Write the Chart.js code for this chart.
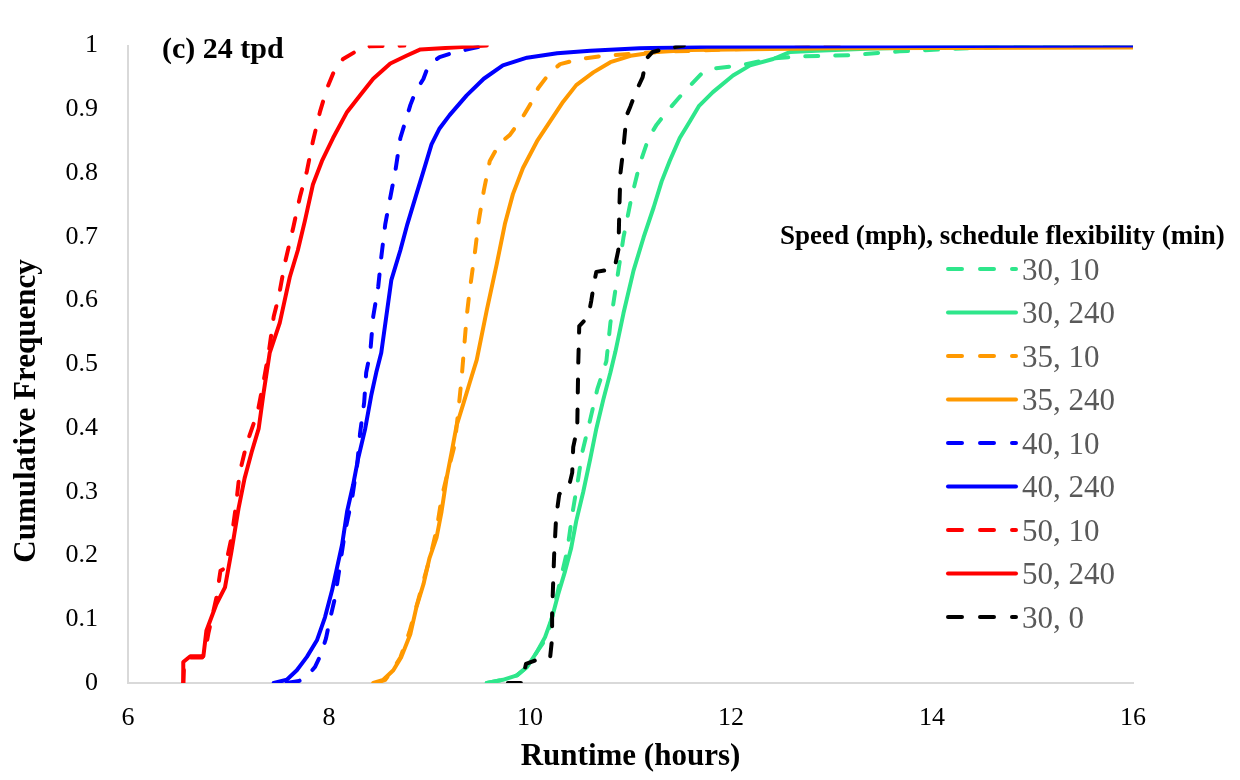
<!DOCTYPE html>
<html>
<head>
<meta charset="utf-8">
<script src="https://cdn.jsdelivr.net/npm/chart.js@4.4.1/dist/chart.umd.min.js"></script>
<style>
  body { margin: 0; background: #ffffff; }
  #wrap { width: 1240px; height: 780px; }
</style>
</head>
<body>
<div id="wrap"><canvas id="cdf-chart" width="1240" height="780"></canvas></div>
<script>
// Axis ticks
const xTicks = [6, 8, 10, 12, 14, 16];
const yTicks = [0, 0.1, 0.2, 0.3, 0.4, 0.5, 0.6, 0.7, 0.8, 0.9, 1];
const yTickLabels = ["0", "0.1", "0.2", "0.3", "0.4", "0.5", "0.6", "0.7", "0.8", "0.9", "1"];

// Series labels: speed (mph), schedule flexibility (min)
const seriesLabels = ["30, 10", "30, 240", "35, 10", "35, 240", "40, 10", "40, 240", "50, 10", "50, 240", "30, 0"];

// [runtime hours, cumulative frequency]
const run30_10 = [[9.57, 0], [9.73, 0.005], [9.87, 0.012], [9.97, 0.025], [10.07, 0.049], [10.17, 0.072], [10.23, 0.11], [10.3, 0.16], [10.37, 0.207], [10.42, 0.264], [10.48, 0.321], [10.52, 0.362], [10.6, 0.414], [10.67, 0.461], [10.76, 0.505], [10.8, 0.565], [10.86, 0.627], [10.93, 0.699], [11.01, 0.762], [11.09, 0.813], [11.18, 0.855], [11.26, 0.876], [11.36, 0.896], [11.53, 0.927], [11.72, 0.958], [11.82, 0.964], [12.09, 0.969], [12.42, 0.98], [12.69, 0.983], [13.18, 0.985], [13.68, 0.991], [14.5, 0.997], [15.2, 0.999], [16, 1]];
const run30_240 = [[9.57, 0], [9.73, 0.005], [9.87, 0.012], [9.97, 0.025], [10.07, 0.049], [10.15, 0.072], [10.22, 0.103], [10.28, 0.139], [10.35, 0.176], [10.41, 0.212], [10.46, 0.254], [10.53, 0.3], [10.6, 0.352], [10.66, 0.399], [10.73, 0.445], [10.8, 0.487], [10.85, 0.52], [10.93, 0.58], [11.03, 0.647], [11.13, 0.699], [11.23, 0.746], [11.31, 0.787], [11.39, 0.819], [11.49, 0.855], [11.59, 0.881], [11.68, 0.905], [11.82, 0.927], [12.02, 0.953], [12.19, 0.969], [12.42, 0.979], [12.59, 0.99], [12.85, 0.992], [13.35, 0.995], [13.88, 0.997], [16, 1]];
const run35_10 = [[8.47, 0], [8.56, 0.005], [8.63, 0.02], [8.71, 0.04], [8.8, 0.08], [8.87, 0.12], [8.94, 0.16], [9.01, 0.2], [9.07, 0.24], [9.12, 0.29], [9.18, 0.33], [9.25, 0.373], [9.29, 0.432], [9.32, 0.479], [9.34, 0.518], [9.37, 0.575], [9.4, 0.616], [9.45, 0.673], [9.49, 0.725], [9.54, 0.772], [9.6, 0.819], [9.7, 0.847], [9.8, 0.86], [9.92, 0.886], [10, 0.907], [10.08, 0.933], [10.2, 0.958], [10.3, 0.971], [10.5, 0.979], [10.73, 0.984], [11, 0.987], [11.26, 0.99], [12, 0.994], [13.2, 1]];
const run35_240 = [[8.44, 0], [8.54, 0.005], [8.64, 0.02], [8.72, 0.041], [8.81, 0.077], [8.87, 0.119], [8.94, 0.155], [9, 0.196], [9.07, 0.228], [9.12, 0.269], [9.17, 0.321], [9.22, 0.362], [9.27, 0.404], [9.34, 0.44], [9.4, 0.471], [9.47, 0.507], [9.57, 0.585], [9.67, 0.658], [9.75, 0.72], [9.83, 0.767], [9.93, 0.808], [10.07, 0.85], [10.2, 0.881], [10.33, 0.912], [10.46, 0.938], [10.63, 0.958], [10.8, 0.974], [11, 0.984], [11.26, 0.99], [11.59, 0.993], [13, 0.996], [16, 0.997]];
const run40_10 = [[7.58, 0], [7.7, 0.003], [7.78, 0.01], [7.86, 0.025], [7.92, 0.045], [7.97, 0.07], [8.01, 0.1], [8.06, 0.134], [8.11, 0.186], [8.16, 0.238], [8.23, 0.29], [8.28, 0.342], [8.31, 0.393], [8.35, 0.44], [8.37, 0.487], [8.41, 0.518], [8.44, 0.575], [8.49, 0.622], [8.52, 0.668], [8.56, 0.72], [8.61, 0.762], [8.66, 0.803], [8.71, 0.855], [8.76, 0.881], [8.81, 0.907], [8.86, 0.927], [8.94, 0.948], [8.99, 0.969], [9.1, 0.982], [9.2, 0.987], [9.4, 0.995], [9.55, 1]];
const run40_240 = [[7.45, 0], [7.58, 0.005], [7.68, 0.02], [7.78, 0.041], [7.88, 0.067], [7.96, 0.103], [8.03, 0.145], [8.08, 0.181], [8.13, 0.217], [8.18, 0.269], [8.24, 0.311], [8.29, 0.352], [8.36, 0.399], [8.42, 0.451], [8.47, 0.487], [8.52, 0.518], [8.57, 0.575], [8.62, 0.632], [8.71, 0.679], [8.78, 0.72], [8.87, 0.767], [8.94, 0.803], [9.02, 0.845], [9.1, 0.87], [9.2, 0.891], [9.37, 0.922], [9.54, 0.948], [9.73, 0.969], [9.97, 0.981], [10.27, 0.988], [10.6, 0.992], [11.09, 0.996], [11.76, 0.998], [16, 1]];
const run50_10 = [[6.55, 0], [6.56, 0.035], [6.6, 0.04], [6.74, 0.04], [6.78, 0.06], [6.8, 0.078], [6.88, 0.134], [6.92, 0.176], [6.965, 0.18], [7.03, 0.228], [7.075, 0.279], [7.11, 0.329], [7.18, 0.375], [7.29, 0.425], [7.35, 0.474], [7.4, 0.518], [7.45, 0.575], [7.5, 0.606], [7.56, 0.658], [7.645, 0.715], [7.71, 0.762], [7.78, 0.803], [7.84, 0.85], [7.91, 0.896], [7.98, 0.933], [8.04, 0.956], [8.14, 0.979], [8.28, 0.992], [8.41, 0.999], [8.75, 1]];
const run50_240 = [[6.55, 0], [6.55, 0.033], [6.62, 0.042], [6.75, 0.042], [6.78, 0.082], [6.88, 0.124], [6.965, 0.15], [7.03, 0.207], [7.1, 0.274], [7.16, 0.321], [7.23, 0.362], [7.3, 0.399], [7.35, 0.456], [7.41, 0.518], [7.51, 0.565], [7.61, 0.637], [7.69, 0.679], [7.76, 0.725], [7.84, 0.782], [7.93, 0.819], [8.04, 0.855], [8.18, 0.896], [8.31, 0.922], [8.44, 0.948], [8.61, 0.972], [8.77, 0.984], [8.91, 0.994], [9.24, 0.997], [9.57, 1]];
const run30_0 = [[9.78, 0], [9.92, 0], [9.96, 0.03], [10.08, 0.037], [10.2, 0.04], [10.22, 0.07], [10.22, 0.11], [10.24, 0.2], [10.26, 0.26], [10.29, 0.295], [10.32, 0.305], [10.39, 0.31], [10.42, 0.33], [10.43, 0.37], [10.47, 0.4], [10.48, 0.5], [10.49, 0.56], [10.58, 0.575], [10.61, 0.6], [10.64, 0.63], [10.66, 0.645], [10.84, 0.65], [10.88, 0.68], [10.89, 0.75], [10.9, 0.8], [10.93, 0.84], [10.96, 0.89], [11, 0.905], [11.06, 0.93], [11.12, 0.95], [11.16, 0.98], [11.22, 0.99], [11.35, 0.995], [11.53, 1]];

const seriesData = [run30_10, run30_240, run35_10, run35_240, run40_10, run40_240, run50_10, run50_240, run30_0];
const seriesColors = ["#2ee68b", "#2ee68b", "#ff9900", "#ff9900", "#0000ff", "#0000ff", "#ff0000", "#ff0000", "#000000"];
const seriesDashed = [true, false, true, false, true, false, true, false, true];

const FONT = "'Liberation Serif', 'Times New Roman', serif";
const DASH = [13, 17];

const datasets = seriesData.map((pts, i) => ({
  label: seriesLabels[i],
  data: pts.map(([x, y]) => ({ x: x, y: y })),
  borderColor: seriesColors[i],
  backgroundColor: seriesColors[i],
  borderWidth: 4,
  borderDash: seriesDashed[i] ? DASH : [],
  borderCapStyle: "round",
  borderJoinStyle: "round",
  showLine: true,
  pointRadius: 0,
  tension: 0,
  order: -i, // later series on top, like the original
}));

// Texts that sit inside the chart: panel tag, y title and the legend box
const overlayText = {
  id: "overlayText",
  afterDraw(chart) {
    const ctx = chart.ctx;
    ctx.save();

    ctx.fillStyle = "#000";
    ctx.font = "bold 30px " + FONT;
    ctx.textAlign = "left";
    ctx.textBaseline = "alphabetic";
    ctx.fillText("(c) 24 tpd", 162, 58);

    ctx.save();
    ctx.translate(27, 411);
    ctx.rotate(-Math.PI / 2);
    ctx.textAlign = "center";
    ctx.textBaseline = "middle";
    ctx.font = "bold 31px " + FONT;
    ctx.fillText("Cumulative Frequency", 0, 0);
    ctx.restore();

    ctx.font = "bold 27px " + FONT;
    ctx.textBaseline = "middle";
    ctx.fillText("Speed (mph), schedule flexibility (min)", 780, 237);

    ctx.font = "31px " + FONT;
    ctx.textBaseline = "alphabetic";
    chart.data.datasets.forEach((ds, i) => {
      const y = 269 + i * 43.5;
      ctx.beginPath();
      ctx.strokeStyle = ds.borderColor;
      ctx.lineWidth = 4;
      ctx.lineCap = "round";
      ctx.setLineDash(ds.borderDash.length ? [14, 18] : []);
      ctx.moveTo(948, y);
      ctx.lineTo(1016, y);
      ctx.stroke();
      ctx.setLineDash([]);
      ctx.fillStyle = "#595959";
      ctx.fillText(ds.label, 1022, y + 10.5);
    });

    ctx.restore();
  },
};

new Chart(document.getElementById("cdf-chart"), {
  type: "scatter",
  data: { datasets: datasets },
  options: {
    responsive: false,
    animation: false,
    layout: { padding: { top: 40, right: 107, bottom: 0, left: 0 } },
    plugins: {
      legend: { display: false },
      tooltip: { enabled: false },
    },
    scales: {
      x: {
        type: "linear",
        min: 6,
        max: 16,
        afterBuildTicks: (scale) => {
          scale.ticks = xTicks.map((v) => ({ value: v }));
        },
        afterFit: (scale) => {
          scale.height = 97;
        },
        grid: { display: false, drawTicks: false },
        border: { display: true, color: "#d9d9d9", width: 2 },
        ticks: {
          color: "#000",
          font: { family: FONT, size: 26 },
          padding: 20,
          maxRotation: 0,
        },
        title: {
          display: true,
          text: "Runtime (hours)",
          color: "#000",
          font: { family: FONT, size: 31, weight: "bold" },
          padding: { top: 0, bottom: 4 },
        },
      },
      y: {
        type: "linear",
        min: 0,
        max: 1,
        afterBuildTicks: (scale) => {
          scale.ticks = yTicks.map((v) => ({ value: v }));
        },
        afterFit: (scale) => {
          scale.width = 128;
        },
        grid: { display: false, drawTicks: false },
        border: { display: true, color: "#d9d9d9", width: 2 },
        ticks: {
          color: "#000",
          font: { family: FONT, size: 26 },
          padding: 30,
          callback: (value, index) => yTickLabels[index],
        },
        title: { display: false },
      },
    },
  },
  plugins: [overlayText],
});
</script>
</body>
</html>
